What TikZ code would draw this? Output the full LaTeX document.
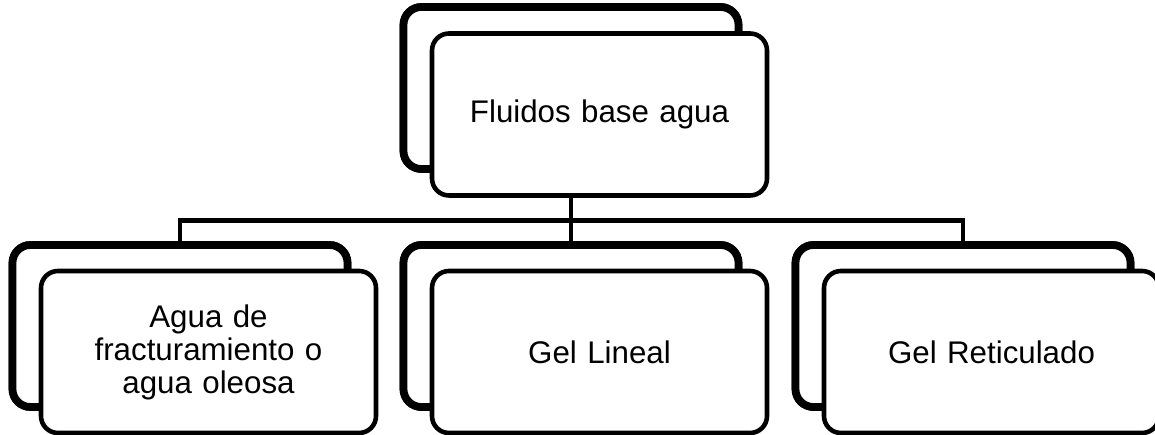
\documentclass[tikz,border=0pt]{standalone}
\usepackage{fontspec}
\setmainfont{Liberation Sans}
\usetikzlibrary{positioning,calc}
\tikzset{
  backbox/.style={draw=black, line width=4.4pt, rounded corners=3.6mm, fill=white, minimum width=6.7cm, minimum height=3.24cm, inner sep=0pt},
  frontbox/.style={draw=black, line width=2.6pt, rounded corners=3.4mm, fill=white, minimum width=6.7cm, minimum height=3.24cm, align=center, text width=6.4cm, font=\fontsize{17.8}{18.8}\selectfont},
  conn/.style={draw=black, line width=2.8pt, line join=miter}
}

\begin{document}
\begin{tikzpicture}
  \useasboundingbox (0,0) rectangle (23.1,8.7);
  \coordinate (bus) at (0,4.29);
  % back cards
  \path (11.42,6.94) node[backbox] (topback) {};
  \path (3.60,2.18) node[backbox] (leftback) {};
  \path (11.42,2.18) node[backbox] (midback) {};
  \path (19.26,2.18) node[backbox] (rightback) {};
  % connectors
  \draw[conn] (topback.south) -- (topback.south |- bus);
  \draw[conn] (leftback.north) -- (leftback.north |- bus) -- (rightback.north |- bus) -- (rightback.north);
  \draw[conn] (midback.north |- bus) -- (midback.north);
  % redraw back cards over the connector ends
  \node[backbox] at (topback) {};
  \node[backbox] at (leftback) {};
  \node[backbox] at (midback) {};
  \node[backbox] at (rightback) {};
  % front cards
  \node[frontbox] (fluidos) at ($(topback)+(0.57,-0.53)$) {Fluidos base agua};
  \node[frontbox] (agua) at ($(leftback)+(0.57,-0.52)$) {Agua de\\fracturamiento o\\agua oleosa};
  \node[frontbox] (lineal) at ($(midback)+(0.57,-0.52)$) {Gel Lineal};
  \node[frontbox] (reticulado) at ($(rightback)+(0.57,-0.52)$) {Gel Reticulado};
\end{tikzpicture}
\end{document}
